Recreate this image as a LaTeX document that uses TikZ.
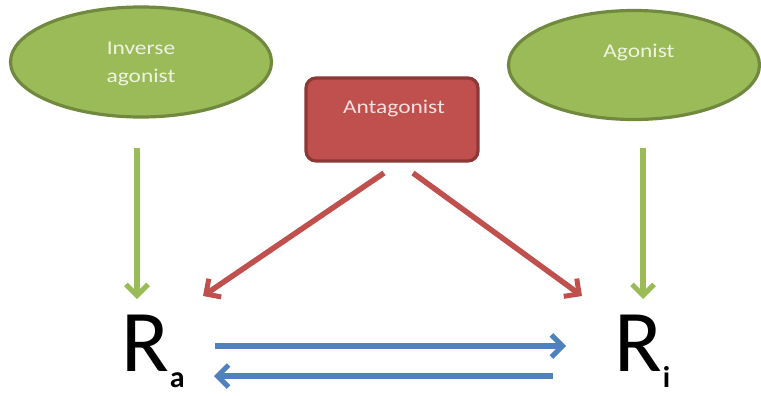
\documentclass[tikz,border=0pt]{standalone}
\usepackage{fontspec}
\setmainfont{Carlito}
\usetikzlibrary{arrows.meta,shapes.geometric}
\definecolor{gfill}{HTML}{9BBB59}
\definecolor{gline}{HTML}{71893F}
\definecolor{rfill}{HTML}{C0504D}
\definecolor{rline}{HTML}{8C3836}
\definecolor{bline}{HTML}{4F81BD}
\definecolor{tgreen}{HTML}{EEF3E0}
\definecolor{tred}{HTML}{F8E0E0}
\tikzset{
  lig/.style={ellipse, draw=gline, line width=3.2pt, fill=gfill, inner sep=0pt},
  antbox/.style={draw=rline, line width=3.2pt, fill=rfill, rounded corners=10pt},
  lbl/.style={font=\fontsize{19.5}{23}\selectfont, text=tgreen, align=center},
  harrow/.style={line width=5.5pt, -{Straight Barb[length=11pt,width=22pt,line width=5pt]}},
  garrow/.style={harrow, draw=gfill},
  rarrow/.style={harrow, draw=rfill},
  barrow/.style={harrow, draw=bline},
  rec/.style={font=\fontsize{88}{90}\selectfont, inner sep=0pt}
}
\begin{document}
\begin{tikzpicture}[x=1pt,y=-1pt]
\useasboundingbox (0,0) rectangle (761,396);
\node[lig, minimum width=261pt, minimum height=110pt] (inv) at (141,62) {};
\node[lbl] at (141,64) {\scalebox{1.2}[1]{Inverse}\\[5pt]\scalebox{1.2}[1]{agonist}};
\node[lig, minimum width=251pt, minimum height=109pt] (ago) at (634,65) {};
\node[lbl] at (639,52) {\scalebox{1.2}[1]{Agonist}};
\draw[antbox] (306,78) rectangle (478,161);
\node[lbl, text=tred] (ant) at (394,108) {\scalebox{1.2}[1]{Antagonist}};
\coordinate (g1s) at (137,148);
\coordinate (g1e) at (137,299);
\coordinate (g2s) at (643,148);
\coordinate (g2e) at (643,299);
\draw[garrow] (g1s) -- (g1e);
\draw[garrow] (g2s) -- (g2e);
\coordinate (r1s) at (384,173);
\coordinate (r1e) at (203,296);
\coordinate (r2s) at (413,173);
\coordinate (r2e) at (582,296);
\draw[rarrow] (r1s) -- (r1e);
\draw[rarrow] (r2s) -- (r2e);
\node[rec, anchor=base west] (ra) at (121,371) {R\kern1pt\raisebox{-16pt}{\fontsize{30}{30}\selectfont\bfseries a}};
\node[rec, anchor=base west] (ri) at (614,371) {R\kern1pt\raisebox{-16pt}{\fontsize{30}{30}\selectfont\bfseries i}};
\coordinate (b1s) at (215,346);
\coordinate (b1e) at (566,346);
\coordinate (b2s) at (553,376);
\coordinate (b2e) at (214,376);
\draw[barrow] (b1s) -- (b1e);
\draw[barrow] (b2s) -- (b2e);
\end{tikzpicture}
\end{document}
